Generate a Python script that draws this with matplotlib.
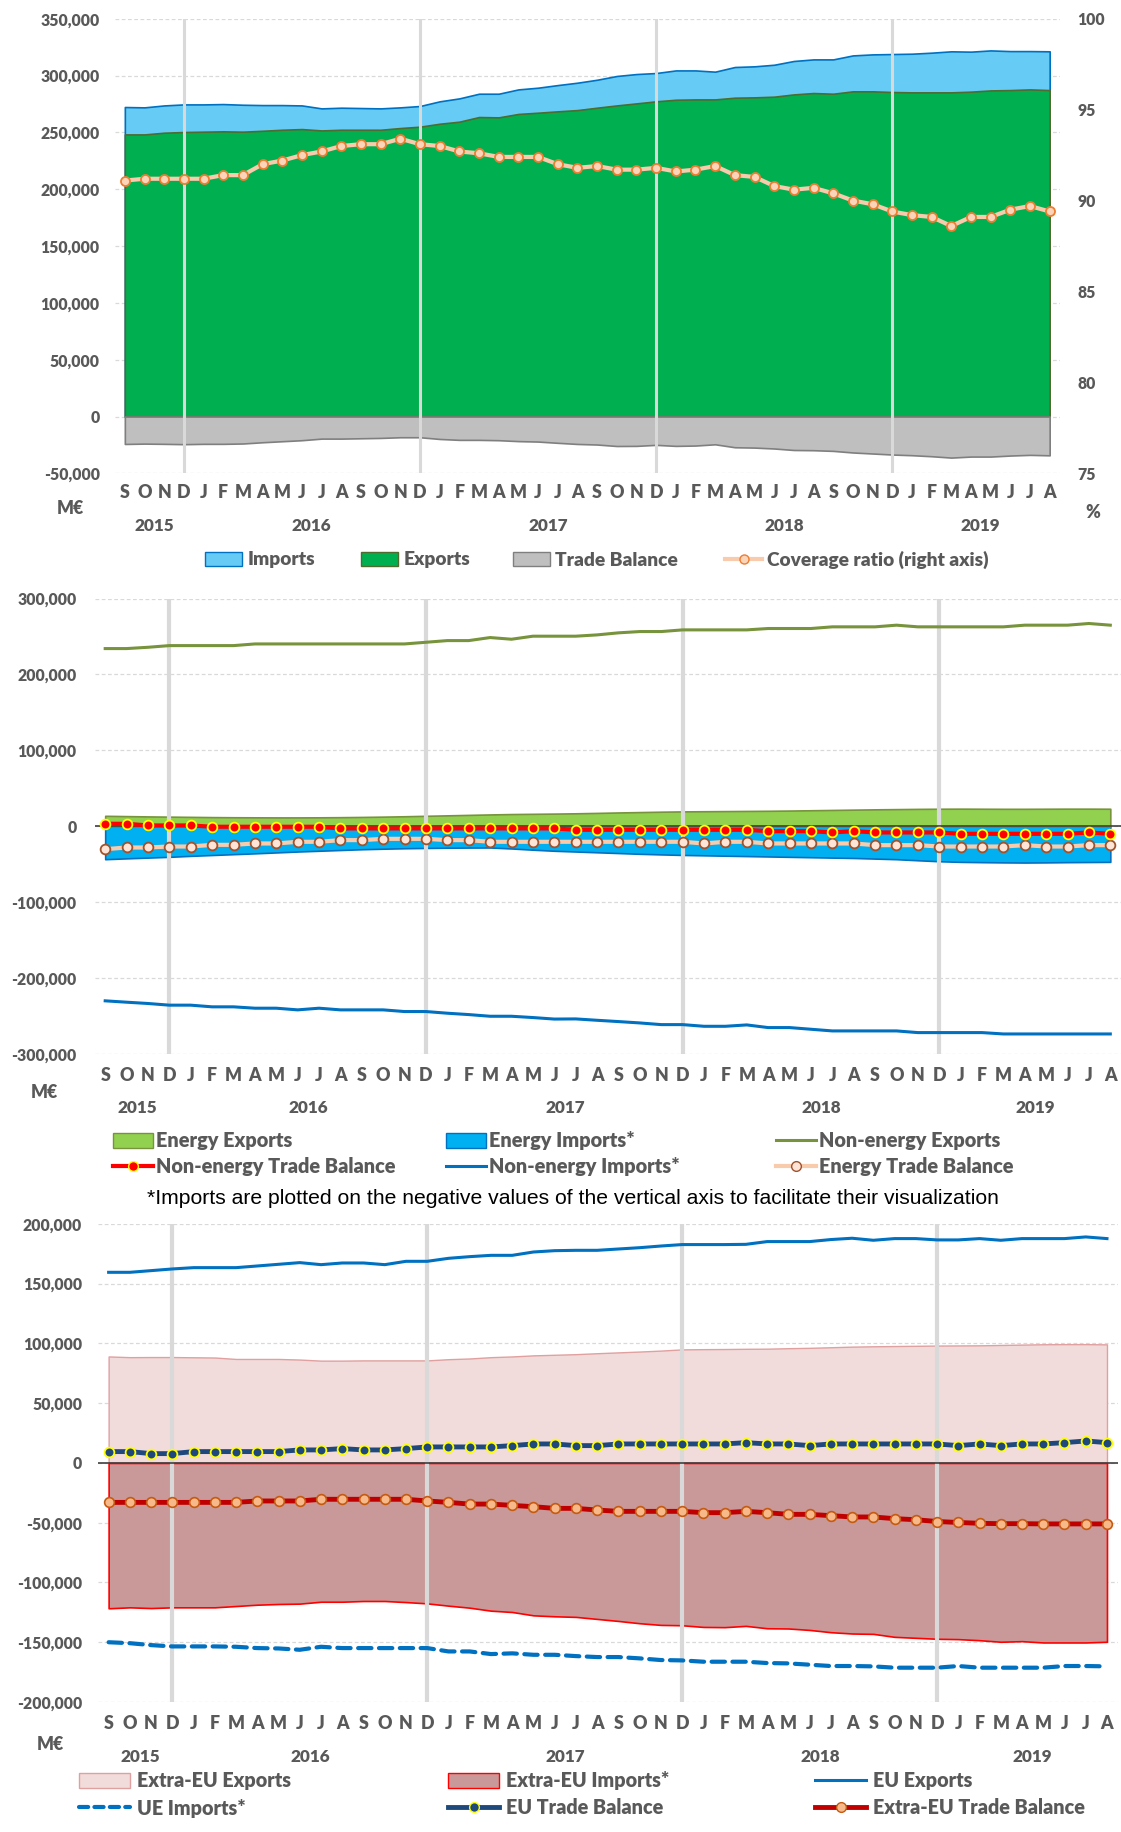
import matplotlib.pyplot as plt
from matplotlib import font_manager as fm
from matplotlib.lines import Line2D
from matplotlib.patches import Patch
import numpy as np


def _weight(f):
    w = f.weight
    return w if isinstance(w, (int, float)) else fm.weight_dict.get(w, 400)


# Excel's Calibri Bold looks heavy; Lato Heavy gets closest
BOLD_FILE = None
faces = [f for f in fm.fontManager.ttflist if f.name == 'Lato' and f.style == 'normal']
if faces:
    BOLD_FILE = min(faces, key=lambda f: abs(_weight(f) - 800)).fname
plt.rcParams['font.family'] = ['Lato', 'DejaVu Sans']


def bold(size):
    if BOLD_FILE:
        return fm.FontProperties(fname=BOLD_FILE, size=size)
    return fm.FontProperties(weight='bold', size=size)


W, H = 1121, 1832
GREY = '#595959'
GRID = '#D9D9D9'

# Sep 2015 .. Aug 2019, 12-month cumulated values (thousand M€ -> scaled below)
months = ['S', 'O', 'N', 'D'] + ['J', 'F', 'M', 'A', 'M', 'J', 'J', 'A', 'S', 'O', 'N', 'D'] * 3 \
    + ['J', 'F', 'M', 'A', 'M', 'J', 'J', 'A']
years = ['2015', '2016', '2017', '2018', '2019']
year_start = [0, 4, 16, 28, 40, 48]
december = [3, 15, 27, 39]

# Panel 1: total trade
imports = [272.3, 272.0, 273.7, 274.6, 274.6, 274.9, 274.3, 274.0, 274.0, 273.7,
           271.1, 271.7, 271.4, 271.1, 272.0, 273.2, 277.3, 279.9, 284.0, 284.0,
           287.8, 289.3, 291.6, 293.7, 296.3, 299.6, 301.3, 302.2, 304.5, 304.5,
           303.4, 307.5, 308.1, 309.5, 312.8, 314.2, 314.2, 317.7, 318.6, 318.9,
           319.2, 320.1, 321.3, 321.0, 322.1, 321.5, 321.5, 321.3]
exports = [248.2, 248.2, 249.7, 250.3, 250.6, 250.9, 250.6, 251.4, 252.3, 252.9,
           251.7, 252.3, 252.3, 252.3, 253.8, 255.0, 257.6, 259.4, 263.5, 263.2,
           266.2, 267.3, 268.5, 269.6, 271.7, 273.7, 275.5, 277.3, 278.7, 279.0,
           279.0, 280.5, 280.8, 281.4, 283.4, 284.6, 284.0, 286.1, 286.1, 285.5,
           285.2, 285.2, 285.2, 285.8, 286.9, 287.2, 287.8, 287.2]
balance = [-24.1, -23.8, -24.0, -24.3, -24.0, -24.0, -23.7, -22.6, -21.7, -20.8,
           -19.4, -19.4, -19.1, -18.8, -18.2, -18.2, -19.7, -20.5, -20.5, -20.8,
           -21.6, -22.0, -23.1, -24.1, -24.6, -25.9, -25.8, -24.9, -25.8, -25.5,
           -24.4, -27.0, -27.3, -28.1, -29.4, -29.6, -30.2, -31.6, -32.5, -33.4,
           -34.0, -34.9, -36.1, -35.2, -35.2, -34.3, -33.7, -34.1]
coverage = [91.1, 91.2, 91.2, 91.2, 91.2, 91.4, 91.4, 92.0, 92.2, 92.5,
            92.7, 93.0, 93.1, 93.1, 93.4, 93.1, 93.0, 92.7, 92.6, 92.4,
            92.4, 92.4, 92.0, 91.8, 91.9, 91.7, 91.7, 91.8, 91.6, 91.7,
            91.9, 91.4, 91.3, 90.8, 90.6, 90.7, 90.4, 90.0, 89.8, 89.4,
            89.2, 89.1, 88.6, 89.1, 89.1, 89.5, 89.7, 89.4]

# Panel 2: energy / non-energy
energy_exp = [14.0, 13.6, 13.2, 12.9, 12.6, 12.3, 12.1, 12.0, 11.9, 11.9,
              12.0, 12.2, 12.5, 12.9, 13.4, 14.0, 14.6, 15.2, 15.8, 16.3,
              16.6, 16.9, 17.3, 17.8, 18.4, 18.9, 19.4, 19.8, 20.0, 20.2,
              20.4, 20.6, 20.9, 21.3, 21.7, 22.1, 22.5, 22.8, 23.1, 23.3,
              23.4, 23.3, 23.2, 23.2, 23.3, 23.4, 23.4, 23.3]
energy_imp = [-43.1, -42.0, -41.0, -40.0, -38.7, -37.6, -36.5, -35.4, -34.2, -33.0,
              -32.0, -31.0, -30.0, -29.3, -28.7, -28.3, -28.0, -27.8, -27.7, -29.0,
              -30.6, -32.0, -33.0, -34.0, -35.0, -36.0, -36.8, -37.5, -38.0, -38.5,
              -39.0, -39.5, -40.0, -40.5, -41.0, -41.5, -42.3, -43.1, -44.5, -45.8,
              -46.6, -47.0, -47.3, -47.5, -47.3, -47.0, -46.8, -46.6]
nonenergy_exp = [234.1, 234.1, 235.8, 238.0, 238.0, 238.0, 238.0, 240.2, 240.2, 240.2,
                 240.2, 240.2, 240.2, 240.2, 240.2, 242.4, 244.6, 244.6, 248.6, 246.4,
                 250.4, 250.4, 250.4, 252.1, 254.8, 256.5, 256.5, 258.7, 258.7, 258.7,
                 258.7, 260.5, 260.5, 260.5, 262.7, 262.7, 262.7, 264.9, 262.7, 262.7,
                 262.7, 262.7, 262.7, 264.9, 264.9, 264.9, 267.1, 264.9]
nonenergy_imp = [-229.5, -231.3, -233.0, -235.2, -235.2, -237.4, -237.4, -239.2, -239.2, -241.4,
                 -239.2, -241.4, -241.4, -241.4, -243.6, -243.6, -245.8, -247.6, -249.8, -249.8,
                 -251.5, -253.5, -253.3, -255.1, -256.8, -258.6, -260.8, -260.8, -263.0, -263.0,
                 -261.2, -264.7, -264.7, -266.9, -269.1, -269.1, -269.1, -269.1, -271.3, -271.3,
                 -271.3, -271.3, -273.1, -273.1, -273.1, -273.1, -273.1, -273.1]
nonenergy_tb = [3.5, 3.5, 1.3, 1.3, 1.3, -0.4, -0.4, -0.4, -0.4, -0.4,
                -0.4, -2.6, -2.6, -2.6, -2.6, -2.6, -2.6, -2.6, -2.6, -2.6,
                -2.6, -2.6, -4.4, -4.4, -4.4, -4.4, -4.4, -4.4, -4.4, -4.4,
                -4.4, -6.2, -6.2, -6.2, -7.9, -6.2, -7.9, -7.9, -7.9, -7.9,
                -9.7, -9.7, -9.7, -9.7, -9.7, -9.7, -7.9, -9.7]
energy_tb = [-29.9, -27.7, -27.7, -26.4, -26.4, -24.2, -24.2, -22.4, -22.4, -20.2,
             -20.2, -18.0, -18.0, -16.3, -16.3, -16.3, -18.0, -18.0, -20.2, -20.2,
             -20.2, -20.2, -20.2, -20.2, -20.2, -20.2, -20.2, -20.2, -22.4, -20.2,
             -20.2, -22.4, -22.4, -22.4, -22.4, -22.4, -24.6, -24.6, -24.6, -26.4,
             -26.4, -26.4, -26.4, -24.6, -26.4, -26.4, -24.6, -24.6]

# Panel 3: EU / extra-EU
extra_exp = [89.1, 88.5, 88.6, 88.6, 88.4, 88.2, 87.0, 87.0, 87.0, 86.5,
             85.6, 85.6, 85.8, 85.8, 85.8, 85.8, 86.8, 87.4, 88.5, 89.1,
             90.0, 90.5, 91.0, 91.8, 92.5, 93.2, 94.0, 95.0, 95.2, 95.3,
             95.5, 95.6, 96.0, 96.3, 96.8, 97.3, 97.6, 97.8, 98.0, 98.2,
             98.3, 98.4, 98.7, 99.0, 99.3, 99.4, 99.4, 99.2]
extra_imp = [-121.6, -120.8, -121.4, -120.8, -120.8, -120.8, -119.7, -118.6, -118.0, -117.7,
             -116.1, -116.1, -115.5, -115.5, -116.4, -117.5, -119.4, -121.1, -123.6, -124.7,
             -127.5, -128.3, -128.8, -130.5, -132.2, -134.1, -135.5, -135.8, -137.2, -137.4,
             -136.3, -138.3, -138.5, -139.7, -141.6, -142.7, -143.0, -145.5, -146.3, -147.1,
             -147.4, -148.3, -149.6, -149.1, -150.2, -150.2, -150.2, -149.6]
eu_exp = [159.5, 159.5, 160.9, 162.3, 163.4, 163.4, 163.4, 164.8, 166.2, 167.6,
          165.9, 167.3, 167.3, 165.9, 168.7, 168.7, 171.2, 172.6, 173.7, 173.7,
          176.5, 177.6, 177.9, 177.9, 179.0, 180.1, 181.5, 182.7, 182.7, 182.7,
          182.9, 185.2, 185.2, 185.2, 186.9, 188.0, 186.3, 187.7, 187.7, 186.6,
          186.6, 187.7, 186.3, 187.7, 187.7, 187.7, 189.1, 187.7]
eu_imp = [-150.0, -150.8, -152.4, -153.5, -153.5, -153.5, -153.8, -154.9, -155.2, -156.3,
          -153.8, -154.9, -154.9, -154.9, -154.9, -154.9, -157.7, -157.7, -159.9, -159.3,
          -160.5, -160.5, -161.6, -162.4, -162.4, -163.5, -164.9, -165.2, -166.3, -166.3,
          -166.3, -167.4, -167.7, -168.8, -169.9, -169.9, -170.2, -171.3, -171.3, -171.3,
          -169.9, -171.3, -171.3, -171.3, -171.3, -169.9, -169.9, -170.2]
eu_tb = [9.5, 9.5, 7.8, 7.8, 9.5, 9.5, 9.5, 9.5, 9.5, 10.9,
         10.9, 12.0, 10.9, 10.9, 12.0, 13.4, 13.4, 13.4, 13.4, 14.5,
         15.9, 15.9, 14.5, 14.5, 15.9, 15.9, 15.9, 15.9, 15.9, 15.9,
         17.0, 15.9, 15.9, 14.5, 15.9, 15.9, 15.9, 15.9, 15.9, 15.9,
         14.5, 15.9, 14.5, 15.9, 15.9, 17.0, 18.4, 17.0]
extra_tb = [-33.0, -33.0, -33.0, -33.0, -33.0, -33.0, -33.0, -31.8, -31.8, -31.8,
            -30.4, -30.4, -30.4, -30.4, -30.4, -31.8, -33.0, -34.4, -34.4, -35.5,
            -36.6, -38.0, -38.0, -39.4, -40.5, -40.5, -40.5, -40.5, -41.6, -41.6,
            -40.5, -41.6, -43.0, -43.0, -44.1, -45.2, -45.2, -46.6, -47.5, -49.0,
            -49.8, -50.5, -50.8, -50.8, -51.0, -51.0, -51.0, -51.0]

K = 1000
x = np.arange(len(months))

TICK = 11.3
MONTH = 12.8
YEAR = 12.3


def px_axes(left, right, bottom, top):
    return [left / W, 1 - bottom / H, (right - left) / W, (bottom - top) / H]


def style(ax, yticks, label_pad, month_pad, year_off, sep_lw):
    ax.set_xlim(-0.5, 47.5)
    ax.set_ylim(yticks[0], yticks[-1])
    ax.set_yticks(yticks)
    ax.set_yticklabels([f'{v:,.0f}' for v in yticks], fontproperties=bold(TICK))
    ax.tick_params(axis='y', length=0, pad=label_pad, labelcolor=GREY)
    ax.set_xticks(x)
    ax.set_xticklabels(months, fontproperties=bold(MONTH), va='center')
    ax.tick_params(axis='x', length=0, pad=month_pad, labelcolor=GREY)
    ax.grid(axis='y', ls=(0, (3, 2)), color=GRID, lw=0.9)
    ax.set_axisbelow(True)
    for side in ('left', 'right', 'top', 'bottom'):
        ax.spines[side].set_visible(False)
    for d in december:
        ax.axvline(d, color=GRID, lw=sep_lw, zorder=2.5)
    for yr, a, b in zip(years, year_start[:-1], year_start[1:]):
        ax.annotate(yr, xy=((a + b - 1) / 2, 0), xycoords=('data', 'axes fraction'),
                    xytext=(0, -year_off), textcoords='offset points',
                    ha='center', va='center', fontproperties=bold(YEAR), color=GREY)


def entry(handle, label, x_px, y_px, size, hlen, pad):
    fig.legend(handles=[handle], labels=[label], loc='center left',
               bbox_to_anchor=(x_px / W, 1 - y_px / H), frameon=False,
               borderpad=0, borderaxespad=0, handlelength=hlen, handleheight=0.75,
               handletextpad=pad, prop=bold(size), labelcolor=GREY)


def unit(x_px, y_px, s):
    fig.text(x_px / W, 1 - y_px / H, s, ha='center', va='center',
             fontproperties=bold(12.8), color=GREY)


fig = plt.figure(figsize=(W / 100, H / 100), dpi=100)

# ---------- Panel 1 ----------
ax1 = fig.add_axes(px_axes(115, 1059.5, 473.4, 18.7))
ax1.fill_between(x, 0, np.array(imports) * K, facecolor='#66CCF5', edgecolor='#0070C0', lw=1.2, zorder=2)
ax1.fill_between(x, 0, np.array(exports) * K, facecolor='#00B050', edgecolor='#4E6B30', lw=1.2, zorder=2.1)
ax1.fill_between(x, 0, np.array(balance) * K, facecolor='#BFBFBF', edgecolor='#7F7F7F', lw=1.2, zorder=2.2)
style(ax1, list(range(-50000, 350001, 50000)), 11, 14, 38, 2.2)

ax1r = ax1.twinx()
ax1r.plot(x, coverage, color='#F8CBAD', lw=3, marker='o', ms=6.5,
          mfc='#FBD5BA', mec='#ED7D31', mew=1.3, zorder=5)
ax1r.set_ylim(75, 100)
ax1r.set_yticks(range(75, 101, 5))
ax1r.set_yticklabels([str(v) for v in range(75, 101, 5)], fontproperties=bold(TICK))
ax1r.tick_params(axis='y', length=0, pad=13, labelcolor=GREY)
for side in ('left', 'right', 'top', 'bottom'):
    ax1r.spines[side].set_visible(False)

unit(70, 508, 'M€')
unit(1093, 512, '%')

LEG1 = 13.8
entry(Patch(facecolor='#66CCF5', edgecolor='#0070C0'), 'Imports', 205, 560, LEG1, 1.95, 0.25)
entry(Patch(facecolor='#00B050', edgecolor='#4E6B30'), 'Exports', 361, 560, LEG1, 1.95, 0.25)
entry(Patch(facecolor='#BFBFBF', edgecolor='#7F7F7F'), 'Trade Balance', 513, 560, LEG1, 1.95, 0.25)
entry(Line2D([], [], color='#F8CBAD', lw=3, marker='o', ms=6.5, mfc='#FBD5BA', mec='#ED7D31'),
      'Coverage ratio (right axis)', 725, 560, LEG1, 1.95, 0.25)

# ---------- Panel 2 ----------
ax2 = fig.add_axes(px_axes(94.5, 1121, 1054.4, 598.5))
ax2.fill_between(x, 0, np.array(energy_imp) * K, facecolor='#00B0F0', edgecolor='#0070C0', lw=1.2, zorder=2)
ax2.fill_between(x, 0, np.array(energy_exp) * K, facecolor='#92D050', edgecolor='#77933C', lw=1.2, zorder=2.1)
style(ax2, list(range(-300000, 300001, 100000)), 13, 15, 38.5, 3)
ax2.axhline(0, color='#404040', lw=1.2, zorder=2.6)
ax2.plot(x, np.array(nonenergy_exp) * K, color='#77933C', lw=2.2, zorder=3)
ax2.plot(x, np.array(nonenergy_imp) * K, color='#0070C0', lw=2.2, zorder=3)
ax2.plot(x, np.array(energy_tb) * K, color='#F8CBAD', lw=3, marker='o', ms=7,
         mfc='#FCE4D6', mec='#A0522D', mew=1.3, zorder=4)
ax2.plot(x, np.array(nonenergy_tb) * K, color='#FF0000', lw=3, marker='o', ms=7,
         mfc='#FF0000', mec='#FFFF00', mew=1.3, zorder=4.1)

unit(44, 1093, 'M€')

LEG2 = 14.3
entry(Patch(facecolor='#92D050', edgecolor='#77933C'), 'Energy Exports', 113, 1141, LEG2, 2.0, 0.15)
entry(Patch(facecolor='#00B0F0', edgecolor='#0070C0'), 'Energy Imports*', 446, 1141, LEG2, 2.0, 0.15)
entry(Line2D([], [], color='#77933C', lw=2.2), 'Non-energy Exports', 776, 1141, LEG2, 2.0, 0.15)
entry(Line2D([], [], color='#FF0000', lw=3, marker='o', ms=7, mfc='#FF0000', mec='#FFFF00'),
      'Non-energy Trade Balance', 113, 1167, LEG2, 2.0, 0.15)
entry(Line2D([], [], color='#0070C0', lw=2.2), 'Non-energy Imports*', 446, 1167, LEG2, 2.0, 0.15)
entry(Line2D([], [], color='#F8CBAD', lw=3, marker='o', ms=7, mfc='#FCE4D6', mec='#A0522D'),
      'Energy Trade Balance', 776, 1167, LEG2, 2.0, 0.15)

fig.text(573 / W, 1 - 1198 / H,
         '*Imports are plotted on the negative values of the vertical axis to facilitate their visualization',
         ha='center', va='center', size=15.2, family='Liberation Sans', color='black')

# ---------- Panel 3 ----------
ax3 = fig.add_axes(px_axes(98, 1117.6, 1702, 1223.9))
ax3.fill_between(x, 0, np.array(extra_exp) * K, facecolor='#F2DCDB', edgecolor='#E0A0A0', lw=1, zorder=2)
ax3.fill_between(x, 0, np.array(extra_imp) * K, facecolor='#C99898', edgecolor='#FF0000', lw=1.2, zorder=2.1)
style(ax3, list(range(-200000, 200001, 50000)), 11.5, 15.8, 39.6, 3)
ax3.axhline(0, color='#404040', lw=1.2, zorder=2.6)
ax3.plot(x, np.array(eu_exp) * K, color='#0070C0', lw=2.2, zorder=3)
ax3.plot(x, np.array(eu_imp) * K, color='#0070C0', lw=3, ls=(0, (3.2, 1.8)),
         dash_capstyle='round', zorder=3)
ax3.plot(x, np.array(eu_tb) * K, color='#1F497D', lw=3.5, marker='o', ms=7,
         mfc='#1F497D', mec='#FFFF00', mew=1.3, zorder=4)
ax3.plot(x, np.array(extra_tb) * K, color='#C00000', lw=3.5, marker='o', ms=7,
         mfc='#F8B98A', mec='#C55A11', mew=1.2, zorder=4)

unit(50, 1744, 'M€')

LEG3 = 14.2
entry(Patch(facecolor='#F2DCDB', edgecolor='#E0A0A0'), 'Extra-EU Exports', 79, 1781, LEG3, 2.6, 0.35)
entry(Patch(facecolor='#C99898', edgecolor='#FF0000'), 'Extra-EU Imports*', 448, 1781, LEG3, 2.6, 0.35)
entry(Line2D([], [], color='#0070C0', lw=2.2), 'EU Exports', 815, 1781, LEG3, 2.6, 0.35)
entry(Line2D([], [], color='#0070C0', lw=3, ls=(0, (2.2, 1.5)), dash_capstyle='round'),
      'UE Imports*', 79, 1808, LEG3, 2.6, 0.35)
entry(Line2D([], [], color='#1F497D', lw=3.5, marker='o', ms=7, mfc='#1F497D', mec='#FFFF00'),
      'EU Trade Balance', 448, 1808, LEG3, 2.6, 0.35)
entry(Line2D([], [], color='#C00000', lw=3.5, marker='o', ms=7, mfc='#F8B98A', mec='#C55A11'),
      'Extra-EU Trade Balance', 815, 1808, LEG3, 2.6, 0.35)

fig.savefig('out.png', dpi=100, facecolor='white')
